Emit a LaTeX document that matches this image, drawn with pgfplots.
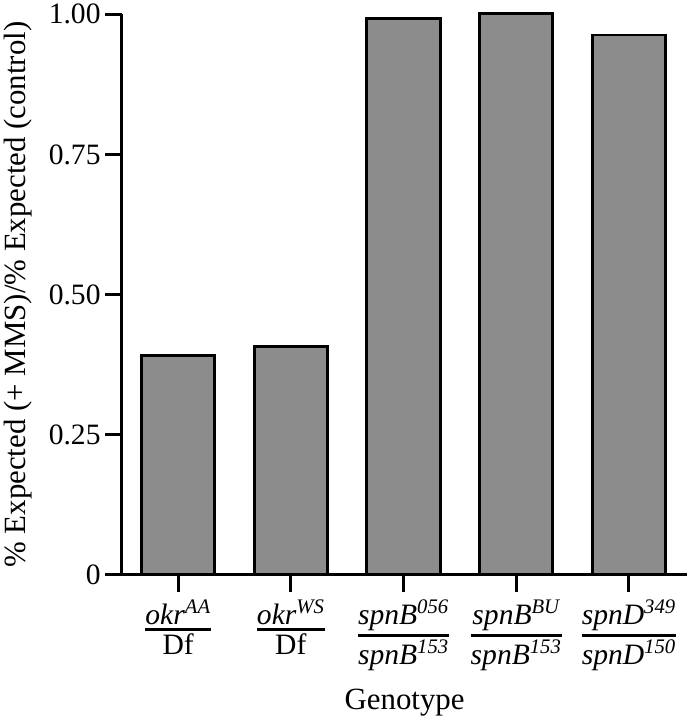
\documentclass[border=0pt]{standalone}
\usepackage{amsmath}
\usepackage{fontspec}
\setmainfont{Liberation Serif}
\usepackage{pgfplots}
\pgfplotsset{compat=1.18}
\definecolor{barfill}{RGB}{140,140,140}
\newcommand\gfrac[2]{$\genfrac{}{}{2.2pt}{1}{\mbox{#1}}{\mbox{#2}}$}
\begin{document}
\begin{tikzpicture}
\begin{axis}[
  scale only axis, width=440pt, height=436pt,
  xmin=-0.5, xmax=4.52, ymin=0, ymax=1,
  axis x line=bottom, axis y line=left,
  axis line style={line width=2.2pt,-},
  clip=false,
  xtick={0,1,2,3,4},
  xticklabels={
    \gfrac{\itshape okr\textsuperscript{AA}}{Df},
    \gfrac{\itshape okr\textsuperscript{WS}}{Df},
    \gfrac{\itshape spnB\textsuperscript{056}}{\itshape spnB\textsuperscript{153}},
    \gfrac{\itshape spnB\textsuperscript{BU}}{\itshape spnB\textsuperscript{153}},
    \gfrac{\itshape spnD\textsuperscript{349}}{\itshape spnD\textsuperscript{150}}},
  ytick={0,0.25,0.5,0.75,1},
  yticklabels={0,0.25,0.50,0.75,1.00},
  tick style={line width=2.2pt, black},
  major tick length=13pt,
  tick align=outside,
  ticklabel style={font=\fontsize{23}{27}\selectfont},
  xticklabel style={inner sep=1pt, yshift=-5pt},
  label style={font=\fontsize{24}{28}\selectfont},
  xlabel={Genotype},
  ylabel={\% Expected (+ MMS)/\% Expected (control)},
  xlabel style={yshift=-9pt},
  ylabel style={yshift=6pt},
]
\addplot[ybar, bar width=57pt, fill=barfill, draw=black, line width=2.2pt]
  coordinates {(0,0.391) (1,0.408) (2,0.993) (3,1.002) (4,0.963)};
\end{axis}
\end{tikzpicture}
\end{document}
